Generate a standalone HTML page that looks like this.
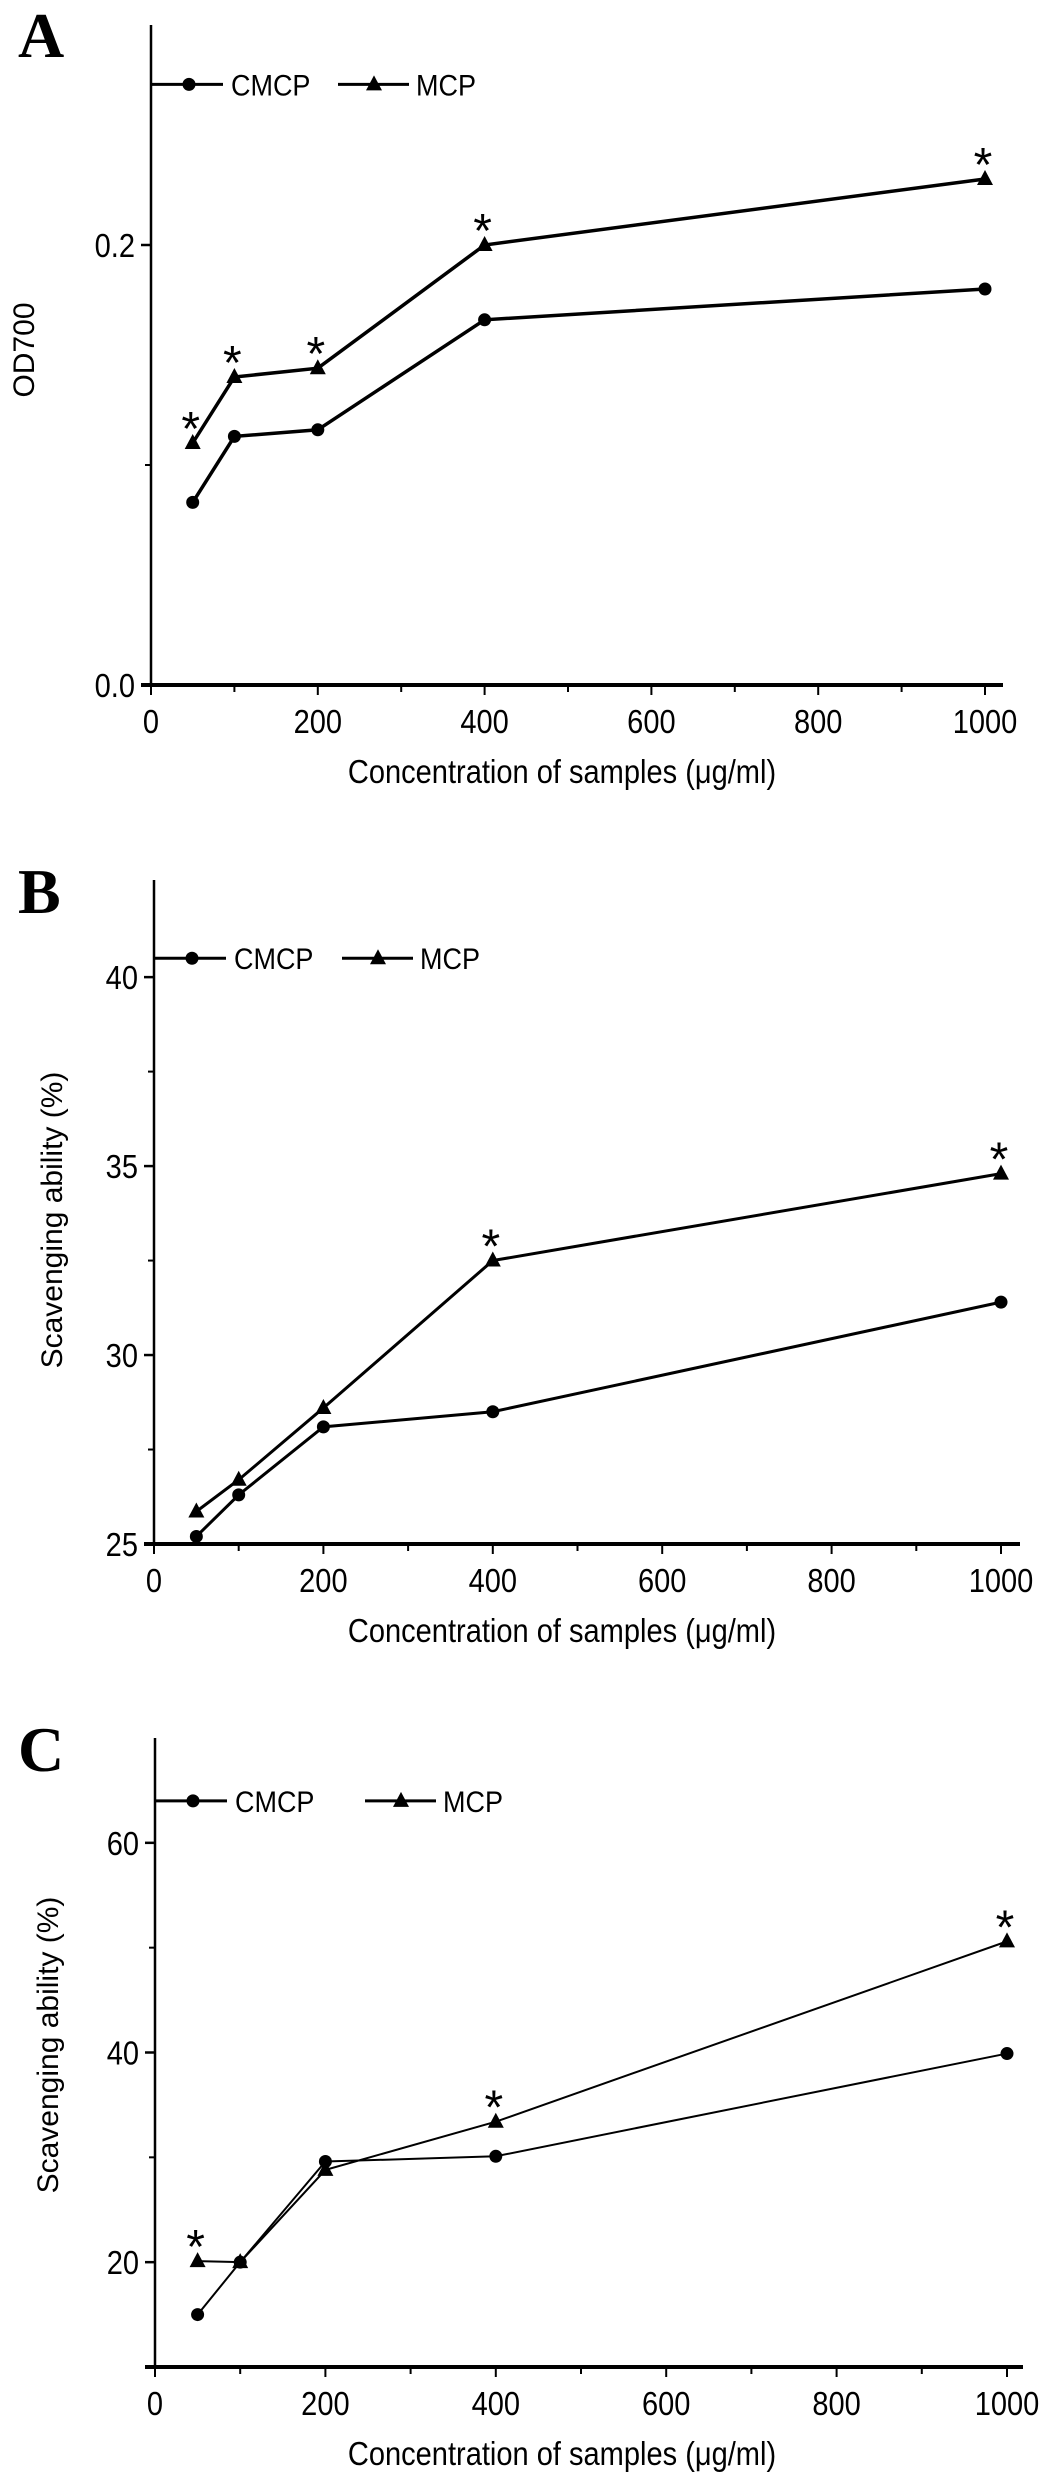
<!DOCTYPE html>
<html><head><meta charset="utf-8"><style>
html,body{margin:0;padding:0;background:#fff}
svg{display:block}
text{font-family:"Liberation Sans",Arial,sans-serif;fill:#000}
text.serif{font-family:"Liberation Serif","DejaVu Serif",serif}
</style></head><body>
<svg id="fig" width="1046" height="2485" viewBox="0 0 1046 2485" xmlns="http://www.w3.org/2000/svg"></svg>
<script>
const concentrations = [50, 100, 200, 400, 1000];
const aCMCP = [0.083, 0.113, 0.116, 0.166, 0.180];
const aMCP  = [0.110, 0.140, 0.144, 0.200, 0.230];
const aStars = [true, true, true, true, true];
const bCMCP = [25.2, 26.3, 28.1, 28.5, 31.4];
const bMCP  = [25.86, 26.7, 28.6, 32.5, 34.8];
const bStars = [false, false, false, true, true];
const cCMCP = [15.0, 20.0, 29.6, 30.1, 39.9];
const cMCP  = [20.1, 20.0, 28.8, 33.4, 50.6];
const cStars = [true, false, false, true, true];
const xTicks = [0, 200, 400, 600, 800, 1000];
const aYTicks = ["0.0", "0.2"];
const bYTicks = ["25", "30", "35", "40"];
const cYTicks = ["20", "40", "60"];

const NS = "http://www.w3.org/2000/svg";
const svg = document.getElementById('fig');
function el(tag, attrs, parent){
  const e = document.createElementNS(NS, tag);
  for (const k in attrs) e.setAttribute(k, attrs[k]);
  (parent||svg).appendChild(e);
  return e;
}
function panel(cfg){
  const g = el('g', {});
  
  
  const X = v => cfg.x0 + (v / 1000) * (cfg.x1000 - cfg.x0);
  const Y = v => cfg.yb - (v - cfg.ymin) / (cfg.ymax - cfg.ymin) * (cfg.yb - cfg.yt);
  const L = el('text', {x: 18, y: cfg.letterY, 'class': 'serif', style: 'font-weight:bold;font-size:64px'}, g);
  L.textContent = cfg.id.toUpperCase();
  
  
  const ya = el('line', {x1: cfg.x0, y1: cfg.yt, x2: cfg.x0, y2: cfg.yb, stroke: '#000', 'stroke-width': 2.5}, g);
  
  
  const xa = el('line', {x1: cfg.x0 - 10, y1: cfg.yb, x2: cfg.xend, y2: cfg.yb, stroke: '#000', 'stroke-width': 4}, g);
  
  
  for (let v = 0; v <= 1000; v += 100) {
    el('line', {x1: X(v), y1: cfg.yb, x2: X(v), y2: cfg.yb + (v % 200 === 0 ? 10 : 7), stroke: '#000', 'stroke-width': 2}, g);
  }
  xTicks.forEach(v => {
    const t = el('text', {x: X(v), y: cfg.yb + 48, 'font-size': 33, 'text-anchor': 'middle', transform: `translate(${X(v)},0) scale(0.88,1) translate(${-X(v)},0)`}, g);
    t.textContent = v;
    
    
  });
  cfg.minor.forEach(v => el('line', {x1: cfg.x0 - 6, y1: Y(v), x2: cfg.x0, y2: Y(v), stroke: '#000', 'stroke-width': 2}, g));
  cfg.yticks.forEach(s => {
    const v = parseFloat(s);
    el('line', {x1: cfg.x0 - 10, y1: Y(v), x2: cfg.x0, y2: Y(v), stroke: '#000', 'stroke-width': 2.5}, g);
    const tx = cfg.x0 - 16;
    const t = el('text', {x: tx, y: Y(v) + 12, 'font-size': 33, 'text-anchor': 'end', transform: `translate(${tx},0) scale(0.88,1) translate(${-tx},0)`}, g);
    t.textContent = s;
    
    
  });
  const xt = el('text', {x: 562, y: cfg.yb + 98, 'font-size': 33, 'text-anchor': 'middle', transform: `translate(562,0) scale(0.88,1) translate(-562,0)`}, g);
  xt.textContent = 'Concentration of samples (μg/ml)';
  
  
  const yt = el('text', {x: 0, y: 0, 'font-size': 30, 'text-anchor': 'middle', transform: `translate(${cfg.ylabX},${cfg.ylabY}) rotate(-90)`}, g);
  yt.textContent = cfg.ylabel;
  
  
  const sw = cfg.lw;
  function circle(x, y, parent){ return el('circle', {cx: x, cy: y, r: 6.5, fill: '#000'}, parent); }
  function tri(x, y, parent){ return el('path', {d: `M${x},${y-9} L${x+8},${y+6} L${x-8},${y+6} Z`, fill: '#000'}, parent); }
  [[cfg.cmcp, circle, 'cmcp'], [cfg.mcp, tri, 'mcp']].forEach(([vals, mk, nm]) => {
    const sg = el('g', {}, g);
    
    
    const pts = concentrations.map((c, i) => X(c) + ',' + Y(vals[i])).join(' ');
    const pl = el('polyline', {points: pts, fill: 'none', stroke: '#000', 'stroke-width': sw}, sg);
    
    
    concentrations.forEach((c, i) => {
      const m = mk(X(c), Y(vals[i]), sg);
      
      
    });
  });
  cfg.stars.forEach((s, i) => {
    if (!s) return;
    const t = el('text', {x: X(concentrations[i]) - 2, y: Y(cfg.mcp[i]) + 2, 'font-size': 48, 'text-anchor': 'middle'}, g);
    t.textContent = '*';
    
    
  });
  const lg = el('g', {}, g);
  
  
  const ly = Y(cfg.legV), lx = cfg.x0;
  el('line', {x1: lx, y1: ly, x2: lx + 72, y2: ly, stroke: '#000', 'stroke-width': 3}, lg);
  circle(lx + 38, ly, lg);
  const t1 = el('text', {x: lx + 80, y: ly + 11, 'font-size': 30, transform: `translate(${lx+80},0) scale(0.9,1) translate(${-(lx+80)},0)`}, lg);
  t1.textContent = 'CMCP';
  
  
  const l2 = lx + cfg.leg2;
  el('line', {x1: l2, y1: ly, x2: l2 + 71, y2: ly, stroke: '#000', 'stroke-width': 3}, lg);
  tri(l2 + 36, ly, lg);
  const t2 = el('text', {x: l2 + 78, y: ly + 11, 'font-size': 30, transform: `translate(${l2+78},0) scale(0.9,1) translate(${-(l2+78)},0)`}, lg);
  t2.textContent = 'MCP';
  
  
}
panel({id:'a', x0:151, x1000:985, xend:1003, yt:25, yb:685, ymin:0, ymax:0.3, yticks:aYTicks, minor:[0.1],
  cmcp:aCMCP, mcp:aMCP, stars:aStars, legV:0.273, leg2:187, letterY:57, ylabel:'OD700', ylabX:34, ylabY:350, lw:3.5});
panel({id:'b', x0:154, x1000:1001, xend:1020, yt:880, yb:1544, ymin:25, ymax:42.57, yticks:bYTicks, minor:[27.5,32.5,37.5],
  cmcp:bCMCP, mcp:bMCP, stars:bStars, legV:40.5, leg2:188, letterY:913, ylabel:'Scavenging ability (%)', ylabX:62, ylabY:1220, lw:3});
panel({id:'c', x0:155, x1000:1007, xend:1023, yt:1738, yb:2367, ymin:10, ymax:70, yticks:cYTicks, minor:[30,50],
  cmcp:cCMCP, mcp:cMCP, stars:cStars, legV:64, leg2:210, letterY:1771, ylabel:'Scavenging ability (%)', ylabX:58, ylabY:2045, lw:2});
</script>
</body></html>
